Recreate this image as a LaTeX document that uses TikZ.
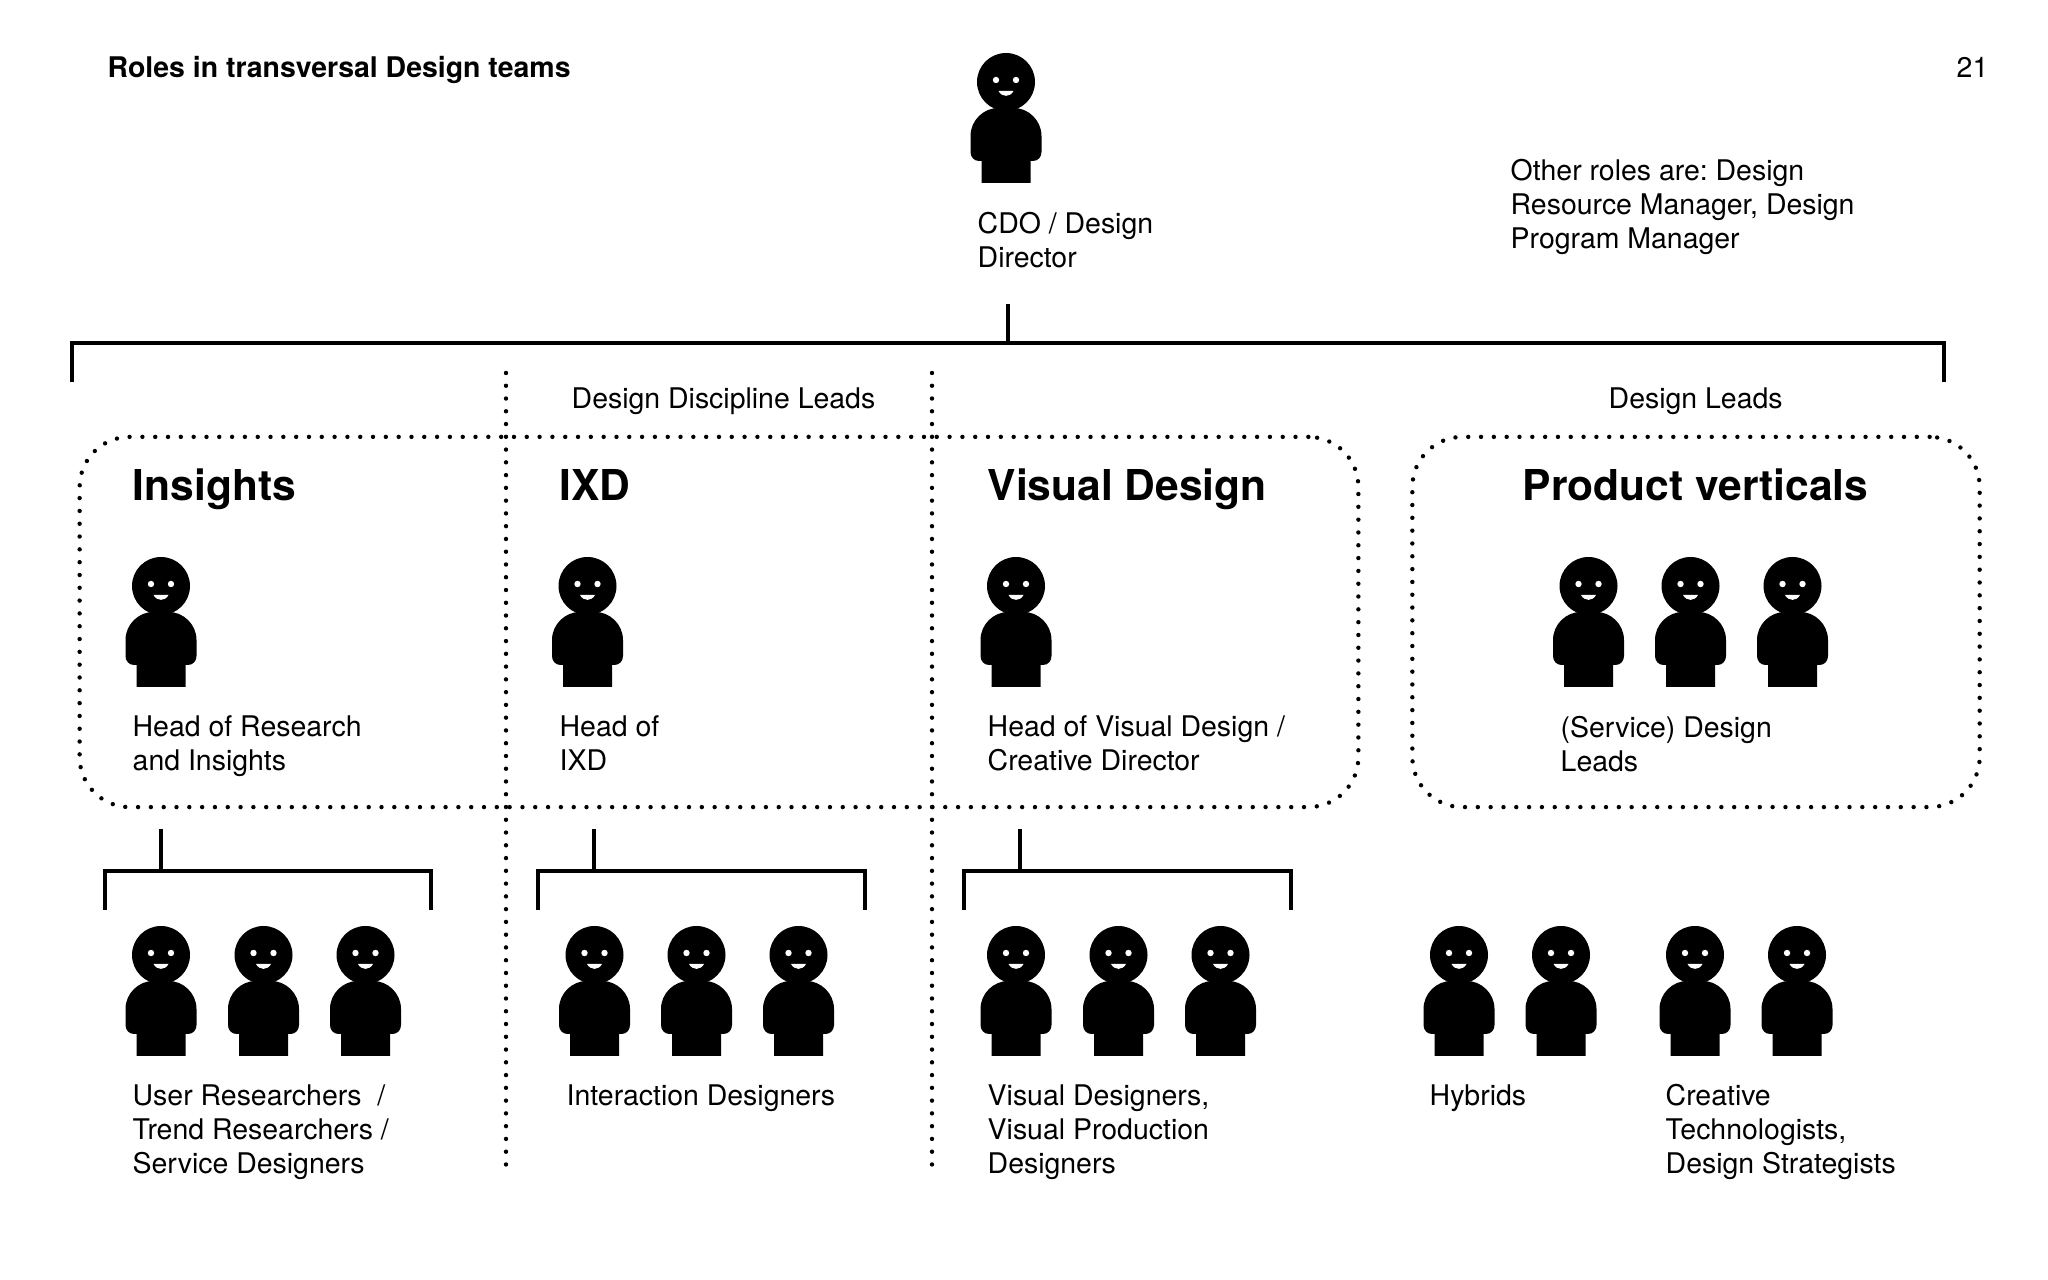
\documentclass[tikz,border=0pt]{standalone}
\usepackage{fontspec}
\setmainfont{TeX Gyre Heros}
\frenchspacing
\usepackage{xcolor}
\usepackage{tikz}
\usetikzlibrary{positioning}

\tikzset{
    label/.style={anchor=north west,inner sep=0pt,align=left,
        font=\fontsize{8.09}{9.67}\selectfont,execute at begin node=\strut},
    heading/.style={anchor=base west,inner sep=0pt,font=\fontsize{12.1}{14}\selectfont\bfseries},
    groupbox/.style={draw,rounded corners=0.5cm,line width=1.25pt,line cap=round,
        minimum height=3.7cm,inner sep=0pt,outer sep=0pt},
    divider/.style={line width=1.25pt,line cap=round,dash pattern=on 0pt off 3.63pt},
    bracket/.style={line width=1.15pt},
    person/.pic={
        \fill (0,0) circle (29);
        \fill (-24.5,101) -- (-24.5,79) -- (-27,79)
            .. controls (-32,79) and (-35.5,75) .. (-35.5,70) -- (-35.5,54)
            .. controls (-35.5,38) and (-22,26) .. (-8,26) -- (8,26)
            .. controls (22,26) and (35.5,38) .. (35.5,54) -- (35.5,70)
            .. controls (35.5,75) and (32,79) .. (27,79) -- (24.5,79) -- (24.5,101) -- cycle;
        \fill[white] (-10,-2) circle (3.2);
        \fill[white] (10,-2) circle (3.2);
        \fill[white] (-7.5,9) .. controls (-4,15.5) and (4,15.5) .. (7.5,9) -- cycle;
    }
}

\begin{document}
\begin{tikzpicture}[x=0.01cm,y=-0.01cm]

\useasboundingbox (0,0) rectangle (2048,1280);

\node[anchor=base west,inner sep=0pt,font=\fontsize{8.09}{9.67}\selectfont\bfseries] at (107,78) (title) {Roles in transversal Design teams};
\node[anchor=base east,inner sep=0pt,font=\fontsize{8.09}{9.67}\selectfont] at (1989,78) (pagenum) {21};

% top of the tree
\pic at (1006,82) {person};
\node[label] at (977,212) (cdo) {CDO / Design\\Director};
\node[label] at (1510,159) (other) {Other roles are: Design\\Resource Manager, Design\\Program Manager};

\coordinate (stemtop) at (1008,304);
\coordinate (stemjoin) at (1008,343);
\coordinate (dropleft) at (72,382);
\coordinate (dropright) at (1944,382);
\draw[bracket] (dropleft) |- (stemjoin) -| (dropright);
\draw[bracket] (stemtop) -- (stemjoin);

\node[label] at (571,384) (disciplineleads) {Design Discipline Leads};
\node[label] at (1608,384) (designleads) {Design Leads};

% groups
\node[groupbox,minimum width=12.78cm,dash pattern=on 0pt off 3.6434pt] at (719,622) (disciplinebox) {};
\node[groupbox,minimum width=5.67cm,dash pattern=on 0pt off 3.6447pt] at (1696,622) (verticalbox) {};

\coordinate (div1top) at (506,373);
\coordinate (div1bot) at (506,1165);
\coordinate (div2top) at (932,373);
\coordinate (div2bot) at (932,1165);
\draw[divider] (div1top) -- (div1bot);
\draw[divider] (div2top) -- (div2bot);

\node[heading] at (132,501) (insights) {Insights};
\node[heading] at (559,501) (ixd) {IXD};
\node[heading] at (987,501) (visual) {Visual Design};
\node[heading] at (1522,501) (product) {Product verticals};

% leads
\pic at (161,586) {person};
\pic at (587.5,586) {person};
\pic at (1016,586) {person};
\pic at (1588.5,586) {person};
\pic at (1690.5,586) {person};
\pic at (1792.5,586) {person};

\node[label] at (132,715) (headresearch) {Head of Research\\and Insights};
\node[label] at (559,715) (headixd) {Head of\\IXD};
\node[label] at (987,715) (headvisual) {Head of Visual Design /\\Creative Director};
\node[label] at (1560,716) (serviceleads) {(Service) Design\\Leads};

% brackets below the leads
\coordinate (astem) at (161,829);
\coordinate (ajoin) at (161,871);
\coordinate (aleft) at (105,910);
\coordinate (aright) at (431,910);
\draw[bracket] (aleft) |- (ajoin) -| (aright);
\draw[bracket] (astem) -- (ajoin);

\coordinate (bstem) at (594,829);
\coordinate (bjoin) at (594,871);
\coordinate (bleft) at (538,910);
\coordinate (bright) at (865,910);
\draw[bracket] (bleft) |- (bjoin) -| (bright);
\draw[bracket] (bstem) -- (bjoin);

\coordinate (cstem) at (1020,829);
\coordinate (cjoin) at (1020,871);
\coordinate (cleft) at (964,910);
\coordinate (cright) at (1291,910);
\draw[bracket] (cleft) |- (cjoin) -| (cright);
\draw[bracket] (cstem) -- (cjoin);

% teams
\pic at (161,955) {person};
\pic at (263.5,955) {person};
\pic at (365.5,955) {person};
\pic at (594.5,955) {person};
\pic at (696.5,955) {person};
\pic at (798.5,955) {person};
\pic at (1016,955) {person};
\pic at (1118.5,955) {person};
\pic at (1220.5,955) {person};
\pic at (1459,955) {person};
\pic at (1561,955) {person};
\pic at (1695,955) {person};
\pic at (1797,955) {person};

\node[label] at (132,1084) (researchers) {User Researchers \ /\\Trend Researchers /\\Service Designers};
\node[label] at (566,1081) (interaction) {Interaction Designers};
\node[label] at (987,1084) (visualteam) {Visual Designers,\\Visual Production\\Designers};
\node[label] at (1429,1081) (hybrids) {Hybrids};
\node[label] at (1665,1084) (creative) {Creative\\Technologists,\\Design Strategists};

\end{tikzpicture}
\end{document}
